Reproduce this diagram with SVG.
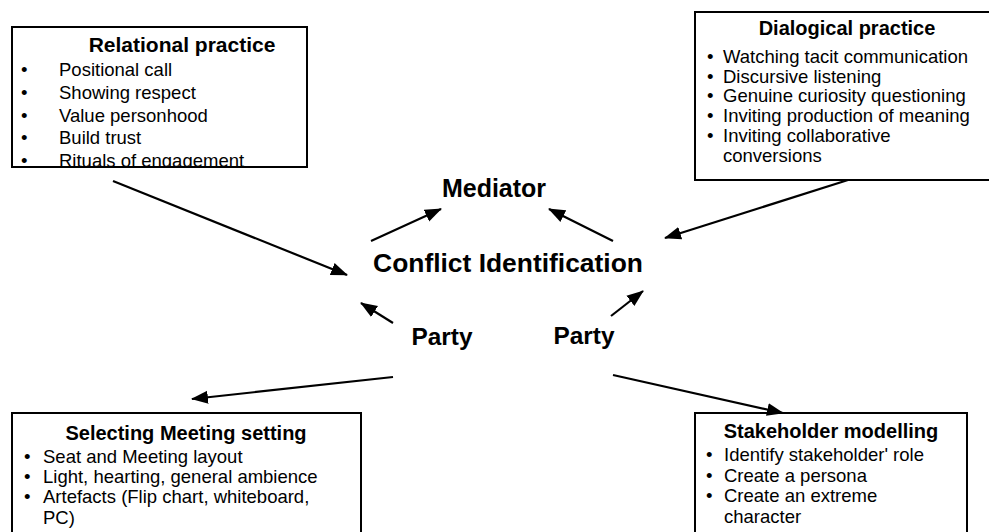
<svg xmlns="http://www.w3.org/2000/svg" width="989" height="532" viewBox="0 0 989 532">
<style>
.box{fill:#fff;stroke:#000;stroke-width:2}
.t{font-family:"Liberation Sans",Arial,sans-serif;fill:#000}
.h{font-size:20px;font-weight:bold;text-anchor:middle}
.b{font-size:18.5px}
.big{font-family:"Liberation Sans",Arial,sans-serif;font-weight:bold;fill:#000}
.c{stroke:#000;stroke-width:2.2;fill:none;marker-end:url(#ah)}
</style>
<defs>
<marker id="ah" markerUnits="userSpaceOnUse" markerWidth="18" markerHeight="14" refX="16" refY="7" orient="auto">
<path d="M0,0.5 L17,7 L0,13.5 z" fill="#000"/>
</marker>
<clipPath id="clipRel"><rect x="12" y="27" width="295" height="140"/></clipPath>
</defs>
<rect width="989" height="532" fill="#fff"/>

<g id="relational">
<rect class="box" x="12" y="27" width="295" height="140"/>
<g clip-path="url(#clipRel)">
<text class="t h" x="182" y="52" style="font-size:21px">Relational practice</text>
<g class="t b">
<text x="21" y="76">•</text><text x="59" y="76">Positional call</text>
<text x="21" y="99">•</text><text x="59" y="99">Showing respect</text>
<text x="21" y="122">•</text><text x="59" y="122">Value personhood</text>
<text x="21" y="144">•</text><text x="59" y="144">Build trust</text>
<text x="21" y="167">•</text><text x="59" y="167">Rituals of engagement</text>
</g>
</g>
</g>

<g id="dialogical">
<rect class="box" x="695" y="12" width="300" height="168"/>
<text class="t h" x="847" y="35">Dialogical practice</text>
<g class="t b">
<text x="707" y="63">•</text><text x="723" y="63">Watching tacit communication</text>
<text x="707" y="83">•</text><text x="723" y="83">Discursive listening</text>
<text x="707" y="102">•</text><text x="723" y="102">Genuine curiosity questioning</text>
<text x="707" y="122">•</text><text x="723" y="122">Inviting production of meaning</text>
<text x="707" y="142">•</text><text x="723" y="142">Inviting collaborative</text>
<text x="723" y="162">conversions</text>
</g>
</g>

<g id="selecting">
<rect class="box" x="12" y="413" width="349" height="130"/>
<text class="t h" x="186" y="440">Selecting Meeting setting</text>
<g class="t b">
<text x="24" y="463">•</text><text x="43" y="463">Seat and Meeting layout</text>
<text x="24" y="483">•</text><text x="43" y="483">Light, hearting, general ambience</text>
<text x="24" y="503">•</text><text x="43" y="503">Artefacts (Flip chart, whiteboard,</text>
<text x="43" y="524">PC)</text>
</g>
</g>

<g id="stakeholder">
<rect class="box" x="695" y="413" width="272" height="130"/>
<text class="t h" x="831" y="438">Stakeholder modelling</text>
<g class="t b">
<text x="706" y="461">•</text><text x="724" y="461">Identify stakeholder' role</text>
<text x="706" y="482">•</text><text x="724" y="482">Create a persona</text>
<text x="706" y="502">•</text><text x="724" y="502">Create an extreme</text>
<text x="724" y="523">character</text>
</g>
</g>

<g id="mediator"><text class="big" x="494" y="197" text-anchor="middle" font-size="25">Mediator</text></g>
<g id="conflict"><text class="big" x="508" y="272" text-anchor="middle" font-size="26.4">Conflict Identification</text></g>
<g id="party-left"><text class="big" x="442" y="345" text-anchor="middle" font-size="24.4">Party</text></g>
<g id="party-right"><text class="big" x="584" y="344" text-anchor="middle" font-size="24.4">Party</text></g>

<g id="connectors">
<line class="c" x1="113" y1="181" x2="347" y2="275"/>
<line class="c" x1="848" y1="180" x2="665" y2="238"/>
<line class="c" x1="371" y1="241" x2="441" y2="209"/>
<line class="c" x1="613" y1="241" x2="549" y2="209"/>
<line class="c" x1="393" y1="323" x2="361" y2="303"/>
<line class="c" x1="611" y1="316" x2="643" y2="291"/>
<line class="c" x1="393" y1="377" x2="192" y2="399"/>
<line class="c" x1="613" y1="375" x2="783" y2="413"/>
</g>
</svg>
